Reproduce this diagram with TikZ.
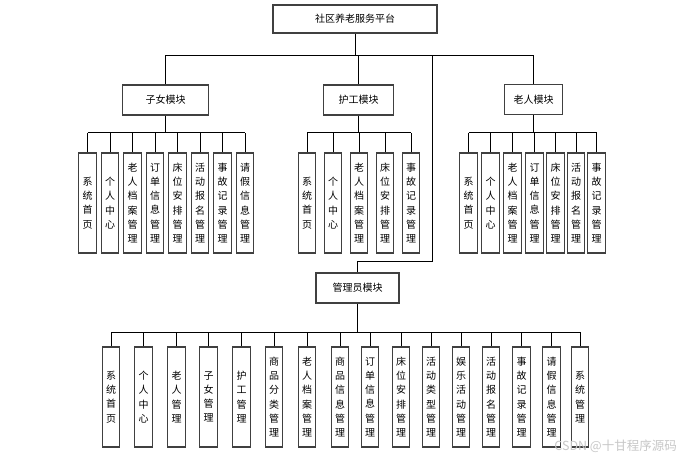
\documentclass[tikz,border=0pt]{standalone}
\usepackage{fontspec}
\setmainfont{Noto Sans CJK SC}
\begin{document}
\begin{tikzpicture}[x=1pt,y=-1pt,
  box/.style={draw=black!75,line width=1.1pt,fill=white,inner sep=0pt,font=\fontsize{10}{11}\selectfont},
  modbox/.style={box,minimum height=30pt},
  leaf/.style={box,minimum width=17.5pt,minimum height=100pt,align=center,font=\fontsize{10}{14.2}\selectfont},
  conn/.style={draw=black,line width=0.8pt}]
\useasboundingbox (0,0) rectangle (685,459);

% coordinates for buses
\coordinate (topbus) at (0,55);
\coordinate (zb) at (0,132.5);
\coordinate (hb) at (0,132.5);
\coordinate (lb) at (0,132.5);
\coordinate (ab) at (0,332);
\coordinate (tap) at (432,55);
\coordinate (elbow) at (432,261);

% main boxes
\node[box,minimum width=164pt,minimum height=28pt] (top) at (355,19) {社区养老服务平台};
\node[modbox,minimum width=86pt] (zm) at (165.5,100) {子女模块};
\node[modbox,minimum width=70pt] (hm) at (358.5,100) {护工模块};
\node[modbox,minimum width=58pt] (lm) at (533.5,99.5) {老人模块};
\node[modbox,minimum width=83pt] (am) at (357.5,288) {管理员模块};

% leaves: 子女
\foreach \x/\t [count=\i] in {87.5/{系\\统\\首\\页},110/{个\\人\\中\\心},132.5/{老\\人\\档\\案\\管\\理},155/{订\\单\\信\\息\\管\\理},177.5/{床\\位\\安\\排\\管\\理},200/{活\\动\\报\\名\\管\\理},222.5/{事\\故\\记\\录\\管\\理},245/{请\\假\\信\\息\\管\\理}}
  \node[leaf] (z\i) at (\x,203) {\t};
% leaves: 护工
\foreach \x/\t [count=\i] in {307/{系\\统\\首\\页},333/{个\\人\\中\\心},359/{老\\人\\档\\案\\管\\理},385/{床\\位\\安\\排\\管\\理},411/{事\\故\\记\\录\\管\\理}}
  \node[leaf] (h\i) at (\x,203) {\t};
% leaves: 老人
\foreach \x/\t [count=\i] in {468.5/{系\\统\\首\\页},490.5/{个\\人\\中\\心},512.5/{老\\人\\档\\案\\管\\理},534.5/{订\\单\\信\\息\\管\\理},555.5/{床\\位\\安\\排\\管\\理},576/{活\\动\\报\\名\\管\\理},596.5/{事\\故\\记\\录\\管\\理}}
  \node[leaf] (l\i) at (\x,203) {\t};
% leaves: 管理员
\foreach \x/\t [count=\i] in {111/{系\\统\\首\\页},143.5/{个\\人\\中\\心},176.5/{老\\人\\管\\理},208.5/{子\\女\\管\\理},241.5/{护\\工\\管\\理},274/{商\\品\\分\\类\\管\\理},307/{老\\人\\档\\案\\管\\理},340/{商\\品\\信\\息\\管\\理},370/{订\\单\\信\\息\\管\\理},401/{床\\位\\安\\排\\管\\理},431/{活\\动\\类\\型\\管\\理},461/{娱\\乐\\活\\动\\管\\理},491/{活\\动\\报\\名\\管\\理},521.5/{事\\故\\记\\录\\管\\理},551.5/{请\\假\\信\\息\\管\\理},580/{系\\统\\管\\理}}
  \node[leaf] (a\i) at (\x,397) {\t};

% connectors: top level
\draw[conn] (top.south) -- (top.south |- topbus);
\draw[conn] (zm.north |- topbus) -- (lm.north |- topbus);
\draw[conn] (zm.north) -- (zm.north |- topbus);
\draw[conn] (hm.north) -- (hm.north |- topbus);
\draw[conn] (lm.north) -- (lm.north |- topbus);
\draw[conn] (tap) -- (elbow) -| (am.north);

% 子女
\draw[conn] (zm.south) -- (zm.south |- zb);
\draw[conn] (z1.north |- zb) -- (z8.north |- zb);
\foreach \i in {1,...,8} \draw[conn] (z\i.north) -- (z\i.north |- zb);
% 护工
\draw[conn] (hm.south) -- (hm.south |- hb);
\draw[conn] (h1.north |- hb) -- (h5.north |- hb);
\foreach \i in {1,...,5} \draw[conn] (h\i.north) -- (h\i.north |- hb);
% 老人
\draw[conn] (lm.south) -- (lm.south |- lb);
\draw[conn] (l1.north |- lb) -- (l7.north |- lb);
\foreach \i in {1,...,7} \draw[conn] (l\i.north) -- (l\i.north |- lb);
% 管理员
\draw[conn] (am.south) -- (am.south |- ab);
\draw[conn] (a1.north |- ab) -- (a16.north |- ab);
\foreach \i in {1,...,16} \draw[conn] (a\i.north) -- (a\i.north |- ab);

% watermark
\node[text=black!22,font=\fontsize{12.5}{14}\selectfont,anchor=east,inner sep=0pt] (wm) at (677,446) {CSDN @十甘程序源码};
\end{tikzpicture}
\end{document}
